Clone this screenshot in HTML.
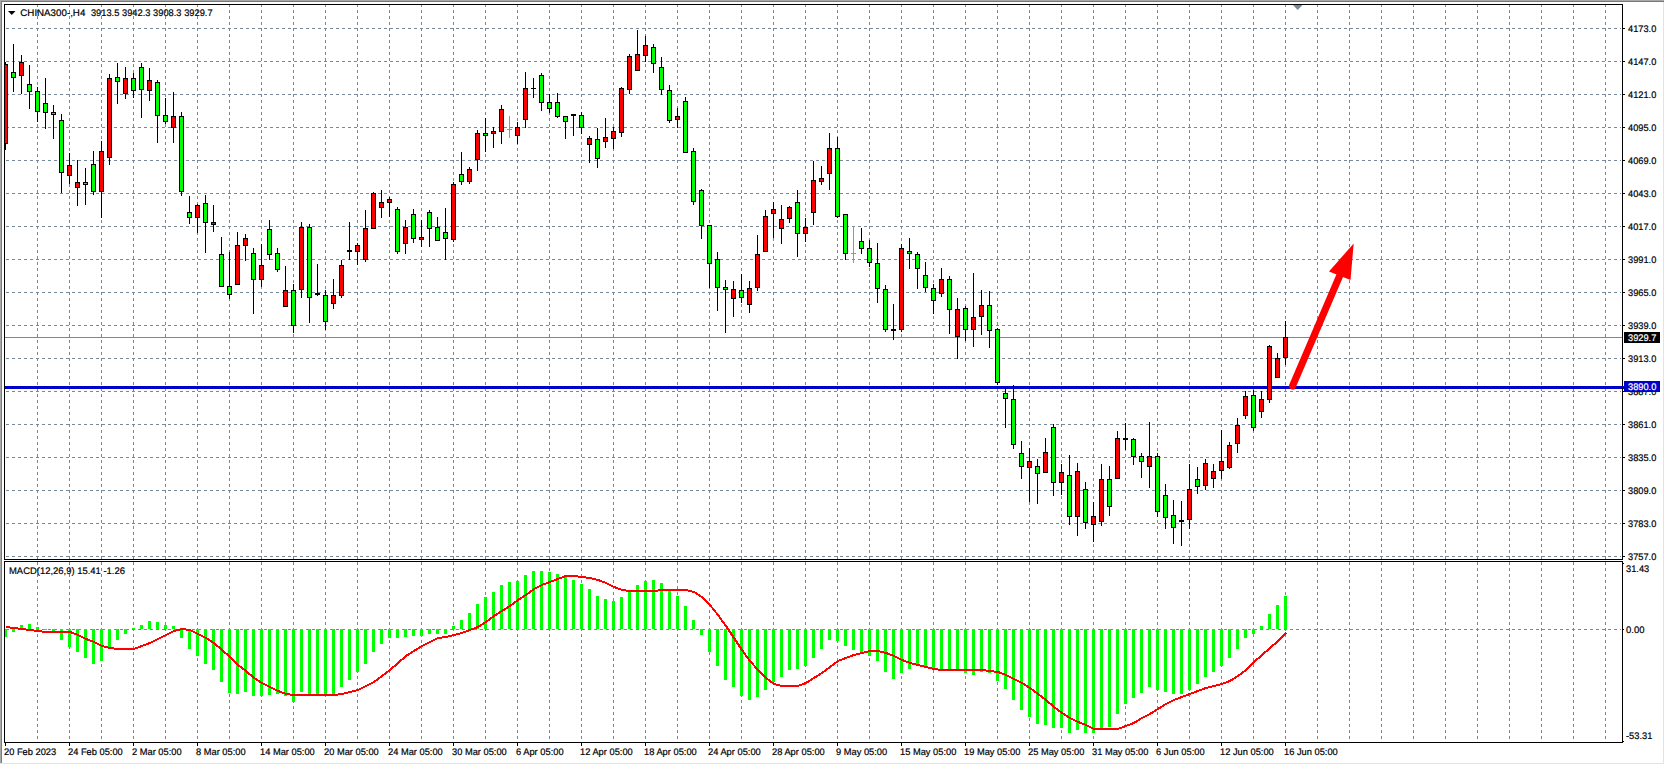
<!DOCTYPE html>
<html><head><meta charset="utf-8"><title>CHINA300-,H4</title>
<style>
html,body{margin:0;padding:0;background:#fff;overflow:hidden}
svg{display:block}
text{font-family:"Liberation Sans",sans-serif;font-size:9.5px;fill:#000;stroke:#000;stroke-width:0.2px}
</style></head>
<body>
<svg width="1665" height="765" viewBox="0 0 1665 765">
<rect x="0" y="0" width="1665" height="765" fill="#fff"/>
<g stroke="#778899" stroke-width="1" stroke-dasharray="3,3" shape-rendering="crispEdges" fill="none">
<line x1="37.5" y1="4" x2="37.5" y2="742"/>
<line x1="69.5" y1="4" x2="69.5" y2="742"/>
<line x1="101.5" y1="4" x2="101.5" y2="742"/>
<line x1="133.5" y1="4" x2="133.5" y2="742"/>
<line x1="165.5" y1="4" x2="165.5" y2="742"/>
<line x1="197.5" y1="4" x2="197.5" y2="742"/>
<line x1="229.5" y1="4" x2="229.5" y2="742"/>
<line x1="261.5" y1="4" x2="261.5" y2="742"/>
<line x1="293.5" y1="4" x2="293.5" y2="742"/>
<line x1="325.5" y1="4" x2="325.5" y2="742"/>
<line x1="357.5" y1="4" x2="357.5" y2="742"/>
<line x1="389.5" y1="4" x2="389.5" y2="742"/>
<line x1="421.5" y1="4" x2="421.5" y2="742"/>
<line x1="453.5" y1="4" x2="453.5" y2="742"/>
<line x1="485.5" y1="4" x2="485.5" y2="742"/>
<line x1="517.5" y1="4" x2="517.5" y2="742"/>
<line x1="549.5" y1="4" x2="549.5" y2="742"/>
<line x1="581.5" y1="4" x2="581.5" y2="742"/>
<line x1="613.5" y1="4" x2="613.5" y2="742"/>
<line x1="645.5" y1="4" x2="645.5" y2="742"/>
<line x1="677.5" y1="4" x2="677.5" y2="742"/>
<line x1="709.5" y1="4" x2="709.5" y2="742"/>
<line x1="741.5" y1="4" x2="741.5" y2="742"/>
<line x1="773.5" y1="4" x2="773.5" y2="742"/>
<line x1="805.5" y1="4" x2="805.5" y2="742"/>
<line x1="837.5" y1="4" x2="837.5" y2="742"/>
<line x1="869.5" y1="4" x2="869.5" y2="742"/>
<line x1="901.5" y1="4" x2="901.5" y2="742"/>
<line x1="933.5" y1="4" x2="933.5" y2="742"/>
<line x1="965.5" y1="4" x2="965.5" y2="742"/>
<line x1="997.5" y1="4" x2="997.5" y2="742"/>
<line x1="1029.5" y1="4" x2="1029.5" y2="742"/>
<line x1="1061.5" y1="4" x2="1061.5" y2="742"/>
<line x1="1093.5" y1="4" x2="1093.5" y2="742"/>
<line x1="1125.5" y1="4" x2="1125.5" y2="742"/>
<line x1="1157.5" y1="4" x2="1157.5" y2="742"/>
<line x1="1189.5" y1="4" x2="1189.5" y2="742"/>
<line x1="1221.5" y1="4" x2="1221.5" y2="742"/>
<line x1="1253.5" y1="4" x2="1253.5" y2="742"/>
<line x1="1285.5" y1="4" x2="1285.5" y2="742"/>
<line x1="1317.5" y1="4" x2="1317.5" y2="742"/>
<line x1="1349.5" y1="4" x2="1349.5" y2="742"/>
<line x1="1381.5" y1="4" x2="1381.5" y2="742"/>
<line x1="1413.5" y1="4" x2="1413.5" y2="742"/>
<line x1="1445.5" y1="4" x2="1445.5" y2="742"/>
<line x1="1477.5" y1="4" x2="1477.5" y2="742"/>
<line x1="1509.5" y1="4" x2="1509.5" y2="742"/>
<line x1="1541.5" y1="4" x2="1541.5" y2="742"/>
<line x1="1573.5" y1="4" x2="1573.5" y2="742"/>
<line x1="1605.5" y1="4" x2="1605.5" y2="742"/>
<line x1="0" y1="28.5" x2="1621" y2="28.5"/>
<line x1="0" y1="61.5" x2="1621" y2="61.5"/>
<line x1="0" y1="94.5" x2="1621" y2="94.5"/>
<line x1="0" y1="127.5" x2="1621" y2="127.5"/>
<line x1="0" y1="160.5" x2="1621" y2="160.5"/>
<line x1="0" y1="193.5" x2="1621" y2="193.5"/>
<line x1="0" y1="226.5" x2="1621" y2="226.5"/>
<line x1="0" y1="259.5" x2="1621" y2="259.5"/>
<line x1="0" y1="292.5" x2="1621" y2="292.5"/>
<line x1="0" y1="325.5" x2="1621" y2="325.5"/>
<line x1="0" y1="358.5" x2="1621" y2="358.5"/>
<line x1="0" y1="391.5" x2="1621" y2="391.5"/>
<line x1="0" y1="424.5" x2="1621" y2="424.5"/>
<line x1="0" y1="457.5" x2="1621" y2="457.5"/>
<line x1="0" y1="490.5" x2="1621" y2="490.5"/>
<line x1="0" y1="523.5" x2="1621" y2="523.5"/>
<line x1="0" y1="556.5" x2="1621" y2="556.5"/>
<line x1="0" y1="629.5" x2="1621" y2="629.5"/>
</g>
<rect x="0" y="0" width="4" height="765" fill="#fff"/>
<g shape-rendering="crispEdges">
<rect x="0" y="0" width="1664" height="1" fill="#a8a8a8"/>
<rect x="0" y="1" width="1664" height="1" fill="#787878"/>
<rect x="0" y="0" width="1" height="763" fill="#a8a8a8"/><rect x="1" y="1" width="1" height="762" fill="#7c7c7c"/>
<rect x="1663" y="2" width="1" height="762" fill="#e3e3e3"/>
<rect x="0" y="763" width="1664" height="1" fill="#e3e3e3"/>
</g>
<g shape-rendering="crispEdges">
<rect x="5" y="560" width="1617" height="1" fill="#fff"/>
<rect x="5" y="337" width="1617" height="1" fill="#778899"/>
<rect x="5" y="386" width="1619" height="3" fill="#0000cd"/>
</g>
<g fill="#00ff00" shape-rendering="crispEdges">
<rect x="4" y="629" width="3" height="8"/>
<rect x="12" y="629" width="3" height="3"/>
<rect x="20" y="625" width="3" height="4"/>
<rect x="28" y="624" width="3" height="5"/>
<rect x="36" y="627" width="3" height="2"/>
<rect x="44" y="629" width="3" height="1"/>
<rect x="52" y="629" width="3" height="2"/>
<rect x="60" y="629" width="3" height="11"/>
<rect x="68" y="629" width="3" height="18"/>
<rect x="76" y="629" width="3" height="23"/>
<rect x="84" y="629" width="3" height="29"/>
<rect x="92" y="629" width="3" height="35"/>
<rect x="100" y="629" width="3" height="32"/>
<rect x="108" y="629" width="3" height="20"/>
<rect x="116" y="629" width="3" height="11"/>
<rect x="124" y="629" width="3" height="5"/>
<rect x="132" y="628" width="3" height="1"/>
<rect x="140" y="625" width="3" height="4"/>
<rect x="148" y="621" width="3" height="8"/>
<rect x="156" y="622" width="3" height="7"/>
<rect x="164" y="625" width="3" height="4"/>
<rect x="172" y="626" width="3" height="3"/>
<rect x="180" y="629" width="3" height="9"/>
<rect x="188" y="629" width="3" height="20"/>
<rect x="196" y="629" width="3" height="27"/>
<rect x="204" y="629" width="3" height="35"/>
<rect x="212" y="629" width="3" height="41"/>
<rect x="220" y="629" width="3" height="53"/>
<rect x="228" y="629" width="3" height="64"/>
<rect x="236" y="629" width="3" height="65"/>
<rect x="244" y="629" width="3" height="63"/>
<rect x="252" y="629" width="3" height="67"/>
<rect x="260" y="629" width="3" height="67"/>
<rect x="268" y="629" width="3" height="66"/>
<rect x="276" y="629" width="3" height="65"/>
<rect x="284" y="629" width="3" height="67"/>
<rect x="292" y="629" width="3" height="73"/>
<rect x="300" y="629" width="3" height="63"/>
<rect x="308" y="629" width="3" height="65"/>
<rect x="316" y="629" width="3" height="65"/>
<rect x="324" y="629" width="3" height="65"/>
<rect x="332" y="629" width="3" height="65"/>
<rect x="340" y="629" width="3" height="58"/>
<rect x="348" y="629" width="3" height="51"/>
<rect x="356" y="629" width="3" height="43"/>
<rect x="364" y="629" width="3" height="35"/>
<rect x="372" y="629" width="3" height="23"/>
<rect x="380" y="629" width="3" height="15"/>
<rect x="388" y="629" width="3" height="9"/>
<rect x="396" y="629" width="3" height="9"/>
<rect x="404" y="629" width="3" height="8"/>
<rect x="412" y="629" width="3" height="7"/>
<rect x="420" y="629" width="3" height="7"/>
<rect x="428" y="629" width="3" height="5"/>
<rect x="436" y="629" width="3" height="5"/>
<rect x="444" y="629" width="3" height="5"/>
<rect x="452" y="626" width="3" height="3"/>
<rect x="460" y="620" width="3" height="9"/>
<rect x="468" y="613" width="3" height="16"/>
<rect x="476" y="604" width="3" height="25"/>
<rect x="484" y="597" width="3" height="32"/>
<rect x="492" y="592" width="3" height="37"/>
<rect x="500" y="585" width="3" height="44"/>
<rect x="508" y="582" width="3" height="47"/>
<rect x="516" y="581" width="3" height="48"/>
<rect x="524" y="575" width="3" height="54"/>
<rect x="532" y="571" width="3" height="58"/>
<rect x="540" y="571" width="3" height="58"/>
<rect x="548" y="572" width="3" height="57"/>
<rect x="556" y="574" width="3" height="55"/>
<rect x="564" y="577" width="3" height="52"/>
<rect x="572" y="580" width="3" height="49"/>
<rect x="580" y="584" width="3" height="45"/>
<rect x="588" y="589" width="3" height="40"/>
<rect x="596" y="596" width="3" height="33"/>
<rect x="604" y="599" width="3" height="30"/>
<rect x="612" y="601" width="3" height="28"/>
<rect x="620" y="597" width="3" height="32"/>
<rect x="628" y="591" width="3" height="38"/>
<rect x="636" y="585" width="3" height="44"/>
<rect x="644" y="581" width="3" height="48"/>
<rect x="652" y="580" width="3" height="49"/>
<rect x="660" y="583" width="3" height="46"/>
<rect x="668" y="590" width="3" height="39"/>
<rect x="676" y="596" width="3" height="33"/>
<rect x="684" y="606" width="3" height="23"/>
<rect x="692" y="620" width="3" height="9"/>
<rect x="700" y="629" width="3" height="6"/>
<rect x="708" y="629" width="3" height="23"/>
<rect x="716" y="629" width="3" height="37"/>
<rect x="724" y="629" width="3" height="51"/>
<rect x="732" y="629" width="3" height="58"/>
<rect x="740" y="629" width="3" height="67"/>
<rect x="748" y="629" width="3" height="71"/>
<rect x="756" y="629" width="3" height="68"/>
<rect x="764" y="629" width="3" height="61"/>
<rect x="772" y="629" width="3" height="53"/>
<rect x="780" y="629" width="3" height="48"/>
<rect x="788" y="629" width="3" height="41"/>
<rect x="796" y="629" width="3" height="40"/>
<rect x="804" y="629" width="3" height="37"/>
<rect x="812" y="629" width="3" height="29"/>
<rect x="820" y="629" width="3" height="20"/>
<rect x="828" y="629" width="3" height="11"/>
<rect x="836" y="629" width="3" height="12"/>
<rect x="844" y="629" width="3" height="17"/>
<rect x="852" y="629" width="3" height="21"/>
<rect x="860" y="629" width="3" height="23"/>
<rect x="868" y="629" width="3" height="27"/>
<rect x="876" y="629" width="3" height="32"/>
<rect x="884" y="629" width="3" height="43"/>
<rect x="892" y="629" width="3" height="50"/>
<rect x="900" y="629" width="3" height="44"/>
<rect x="908" y="629" width="3" height="40"/>
<rect x="916" y="629" width="3" height="37"/>
<rect x="924" y="629" width="3" height="38"/>
<rect x="932" y="629" width="3" height="41"/>
<rect x="940" y="629" width="3" height="40"/>
<rect x="948" y="629" width="3" height="41"/>
<rect x="956" y="629" width="3" height="41"/>
<rect x="964" y="629" width="3" height="44"/>
<rect x="972" y="629" width="3" height="46"/>
<rect x="980" y="629" width="3" height="43"/>
<rect x="988" y="629" width="3" height="44"/>
<rect x="996" y="629" width="3" height="52"/>
<rect x="1004" y="629" width="3" height="60"/>
<rect x="1012" y="629" width="3" height="71"/>
<rect x="1020" y="629" width="3" height="81"/>
<rect x="1028" y="629" width="3" height="88"/>
<rect x="1036" y="629" width="3" height="95"/>
<rect x="1044" y="629" width="3" height="96"/>
<rect x="1052" y="629" width="3" height="99"/>
<rect x="1060" y="629" width="3" height="99"/>
<rect x="1068" y="629" width="3" height="104"/>
<rect x="1076" y="629" width="3" height="101"/>
<rect x="1084" y="629" width="3" height="104"/>
<rect x="1092" y="629" width="3" height="104"/>
<rect x="1100" y="629" width="3" height="99"/>
<rect x="1108" y="629" width="3" height="98"/>
<rect x="1116" y="629" width="3" height="85"/>
<rect x="1124" y="629" width="3" height="75"/>
<rect x="1132" y="629" width="3" height="69"/>
<rect x="1140" y="629" width="3" height="64"/>
<rect x="1148" y="629" width="3" height="58"/>
<rect x="1156" y="629" width="3" height="61"/>
<rect x="1164" y="629" width="3" height="63"/>
<rect x="1172" y="629" width="3" height="65"/>
<rect x="1180" y="629" width="3" height="65"/>
<rect x="1188" y="629" width="3" height="61"/>
<rect x="1196" y="629" width="3" height="55"/>
<rect x="1204" y="629" width="3" height="48"/>
<rect x="1212" y="629" width="3" height="43"/>
<rect x="1220" y="629" width="3" height="37"/>
<rect x="1228" y="629" width="3" height="29"/>
<rect x="1236" y="629" width="3" height="20"/>
<rect x="1244" y="629" width="3" height="9"/>
<rect x="1252" y="629" width="3" height="5"/>
<rect x="1260" y="626" width="3" height="3"/>
<rect x="1268" y="614" width="3" height="15"/>
<rect x="1276" y="605" width="3" height="24"/>
<rect x="1284" y="596" width="3" height="33"/>
</g>
<polyline points="6,627 14,628 22,629 30,630 38,631 46,632 54,632 62,632 70,632 78,635 86,639 94,642 102,646 110,648 118,649 126,649 134,649 142,646 150,643 158,639 166,635 174,631 182,629 190,630 198,634 206,638 214,643 222,650 230,657 238,665 246,671 254,678 262,683 270,687 278,691 286,694 294,695 302,695 310,695 318,695 326,695 334,695 342,694 350,692 358,690 366,686 374,682 382,676 390,670 398,663 406,656 414,651 422,646 430,642 438,638 446,637 454,635 462,633 470,630 478,627 486,622 494,616 502,611 510,606 518,600 526,595 534,589 542,585 550,582 558,579 566,576 574,576 582,577 590,578 598,580 606,583 614,587 622,590 630,591 638,591 646,591 654,591 662,590 670,590 678,590 686,590 694,592 702,597 710,605 718,615 726,626 734,638 742,650 750,661 758,670 766,678 774,684 782,686 790,686 798,686 806,683 814,678 822,673 830,667 838,661 846,658 854,655 862,653 870,651 878,651 886,653 894,656 902,660 910,663 918,665 926,667 934,669 942,670 950,670 958,670 966,670 974,670 982,670 990,671 998,672 1006,675 1014,679 1022,683 1030,688 1038,694 1046,700 1054,707 1062,713 1070,718 1078,722 1086,725 1094,729 1102,729 1110,729 1118,729 1126,726 1134,723 1142,718 1150,714 1158,709 1166,704 1174,700 1182,697 1190,694 1198,691 1206,688 1214,686 1222,684 1230,681 1238,676 1246,670 1254,662 1262,655 1270,648 1278,641 1286,633" fill="none" stroke="#ff0000" stroke-width="2" stroke-linejoin="round" shape-rendering="crispEdges"/>
<g shape-rendering="crispEdges">
<rect x="5" y="62" width="1" height="88" fill="#000"/><rect x="3" y="64" width="5" height="80" fill="#000"/><rect x="4" y="65" width="3" height="78" fill="#ff0000"/>
<rect x="13" y="44" width="1" height="48" fill="#000"/><rect x="11" y="72" width="5" height="6" fill="#000"/><rect x="12" y="73" width="3" height="4" fill="#00ff00"/>
<rect x="21" y="55" width="1" height="39" fill="#000"/><rect x="19" y="62" width="5" height="14" fill="#000"/><rect x="20" y="63" width="3" height="12" fill="#ff0000"/>
<rect x="29" y="65" width="1" height="44" fill="#000"/><rect x="27" y="84" width="5" height="8" fill="#000"/><rect x="28" y="85" width="3" height="6" fill="#00ff00"/>
<rect x="37" y="87" width="1" height="35" fill="#000"/><rect x="35" y="91" width="5" height="21" fill="#000"/><rect x="36" y="92" width="3" height="19" fill="#00ff00"/>
<rect x="45" y="78" width="1" height="51" fill="#000"/><rect x="43" y="103" width="5" height="10" fill="#000"/><rect x="44" y="104" width="3" height="8" fill="#00ff00"/>
<rect x="53" y="105" width="1" height="34" fill="#000"/><rect x="51" y="112" width="5" height="3" fill="#000"/><rect x="52" y="113" width="3" height="1" fill="#00ff00"/>
<rect x="61" y="114" width="1" height="79" fill="#000"/><rect x="59" y="120" width="5" height="53" fill="#000"/><rect x="60" y="121" width="3" height="51" fill="#00ff00"/>
<rect x="69" y="153" width="1" height="31" fill="#000"/><rect x="67" y="165" width="5" height="11" fill="#000"/><rect x="68" y="166" width="3" height="9" fill="#ff0000"/>
<rect x="77" y="160" width="1" height="46" fill="#000"/><rect x="75" y="182" width="5" height="6" fill="#000"/><rect x="76" y="183" width="3" height="4" fill="#ff0000"/>
<rect x="85" y="168" width="1" height="37" fill="#000"/><rect x="83" y="182" width="5" height="3" fill="#000"/><rect x="84" y="183" width="3" height="1" fill="#00ff00"/>
<rect x="93" y="151" width="1" height="44" fill="#000"/><rect x="91" y="164" width="5" height="28" fill="#000"/><rect x="92" y="165" width="3" height="26" fill="#00ff00"/>
<rect x="101" y="141" width="1" height="77" fill="#000"/><rect x="99" y="151" width="5" height="41" fill="#000"/><rect x="100" y="152" width="3" height="39" fill="#ff0000"/>
<rect x="109" y="74" width="1" height="91" fill="#000"/><rect x="107" y="78" width="5" height="80" fill="#000"/><rect x="108" y="79" width="3" height="78" fill="#ff0000"/>
<rect x="117" y="63" width="1" height="41" fill="#000"/><rect x="115" y="77" width="5" height="5" fill="#000"/><rect x="116" y="78" width="3" height="3" fill="#00ff00"/>
<rect x="125" y="67" width="1" height="32" fill="#000"/><rect x="123" y="78" width="5" height="16" fill="#000"/><rect x="124" y="79" width="3" height="14" fill="#ff0000"/>
<rect x="133" y="73" width="1" height="25" fill="#000"/><rect x="131" y="78" width="5" height="13" fill="#000"/><rect x="132" y="79" width="3" height="11" fill="#00ff00"/>
<rect x="141" y="63" width="1" height="55" fill="#000"/><rect x="139" y="67" width="5" height="23" fill="#000"/><rect x="140" y="68" width="3" height="21" fill="#00ff00"/>
<rect x="149" y="68" width="1" height="33" fill="#000"/><rect x="147" y="80" width="5" height="11" fill="#000"/><rect x="148" y="81" width="3" height="9" fill="#ff0000"/>
<rect x="157" y="80" width="1" height="63" fill="#000"/><rect x="155" y="82" width="5" height="34" fill="#000"/><rect x="156" y="83" width="3" height="32" fill="#00ff00"/>
<rect x="165" y="98" width="1" height="26" fill="#000"/><rect x="163" y="115" width="5" height="7" fill="#000"/><rect x="164" y="116" width="3" height="5" fill="#00ff00"/>
<rect x="173" y="92" width="1" height="51" fill="#000"/><rect x="171" y="116" width="5" height="12" fill="#000"/><rect x="172" y="117" width="3" height="10" fill="#ff0000"/>
<rect x="181" y="112" width="1" height="84" fill="#000"/><rect x="179" y="116" width="5" height="76" fill="#000"/><rect x="180" y="117" width="3" height="74" fill="#00ff00"/>
<rect x="189" y="196" width="1" height="28" fill="#000"/><rect x="187" y="212" width="5" height="6" fill="#000"/><rect x="188" y="213" width="3" height="4" fill="#00ff00"/>
<rect x="197" y="204" width="1" height="29" fill="#000"/><rect x="195" y="205" width="5" height="13" fill="#000"/><rect x="196" y="206" width="3" height="11" fill="#ff0000"/>
<rect x="205" y="195" width="1" height="58" fill="#000"/><rect x="203" y="203" width="5" height="20" fill="#000"/><rect x="204" y="204" width="3" height="18" fill="#00ff00"/>
<rect x="213" y="205" width="1" height="27" fill="#000"/><rect x="211" y="222" width="5" height="3" fill="#000"/><rect x="212" y="223" width="3" height="1" fill="#ff0000"/>
<rect x="221" y="237" width="1" height="50" fill="#000"/><rect x="219" y="254" width="5" height="33" fill="#000"/><rect x="220" y="255" width="3" height="31" fill="#00ff00"/>
<rect x="229" y="252" width="1" height="47" fill="#000"/><rect x="227" y="286" width="5" height="9" fill="#000"/><rect x="228" y="287" width="3" height="7" fill="#00ff00"/>
<rect x="237" y="232" width="1" height="53" fill="#000"/><rect x="235" y="245" width="5" height="40" fill="#000"/><rect x="236" y="246" width="3" height="38" fill="#ff0000"/>
<rect x="245" y="234" width="1" height="27" fill="#000"/><rect x="243" y="238" width="5" height="8" fill="#000"/><rect x="244" y="239" width="3" height="6" fill="#ff0000"/>
<rect x="253" y="248" width="1" height="66" fill="#000"/><rect x="251" y="253" width="5" height="27" fill="#000"/><rect x="252" y="254" width="3" height="25" fill="#00ff00"/>
<rect x="261" y="244" width="1" height="43" fill="#000"/><rect x="259" y="265" width="5" height="15" fill="#000"/><rect x="260" y="266" width="3" height="13" fill="#ff0000"/>
<rect x="269" y="220" width="1" height="40" fill="#000"/><rect x="267" y="229" width="5" height="26" fill="#000"/><rect x="268" y="230" width="3" height="24" fill="#00ff00"/>
<rect x="277" y="248" width="1" height="24" fill="#000"/><rect x="275" y="253" width="5" height="17" fill="#000"/><rect x="276" y="254" width="3" height="15" fill="#00ff00"/>
<rect x="285" y="266" width="1" height="41" fill="#000"/><rect x="283" y="290" width="5" height="17" fill="#000"/><rect x="284" y="291" width="3" height="15" fill="#ff0000"/>
<rect x="293" y="284" width="1" height="49" fill="#000"/><rect x="291" y="290" width="5" height="36" fill="#000"/><rect x="292" y="291" width="3" height="34" fill="#00ff00"/>
<rect x="301" y="222" width="1" height="76" fill="#000"/><rect x="299" y="227" width="5" height="63" fill="#000"/><rect x="300" y="228" width="3" height="61" fill="#ff0000"/>
<rect x="309" y="224" width="1" height="99" fill="#000"/><rect x="307" y="227" width="5" height="71" fill="#000"/><rect x="308" y="228" width="3" height="69" fill="#00ff00"/>
<rect x="317" y="264" width="1" height="32" fill="#000"/><rect x="315" y="293" width="5" height="2" fill="#000"/>
<rect x="325" y="290" width="1" height="40" fill="#000"/><rect x="323" y="295" width="5" height="27" fill="#000"/><rect x="324" y="296" width="3" height="25" fill="#00ff00"/>
<rect x="333" y="279" width="1" height="30" fill="#000"/><rect x="331" y="295" width="5" height="9" fill="#000"/><rect x="332" y="296" width="3" height="7" fill="#ff0000"/>
<rect x="341" y="260" width="1" height="38" fill="#000"/><rect x="339" y="265" width="5" height="31" fill="#000"/><rect x="340" y="266" width="3" height="29" fill="#ff0000"/>
<rect x="349" y="222" width="1" height="38" fill="#000"/><rect x="347" y="250" width="5" height="2" fill="#000"/>
<rect x="357" y="243" width="1" height="22" fill="#000"/><rect x="355" y="245" width="5" height="7" fill="#000"/><rect x="356" y="246" width="3" height="5" fill="#ff0000"/>
<rect x="365" y="210" width="1" height="52" fill="#000"/><rect x="363" y="228" width="5" height="32" fill="#000"/><rect x="364" y="229" width="3" height="30" fill="#ff0000"/>
<rect x="373" y="192" width="1" height="37" fill="#000"/><rect x="371" y="193" width="5" height="36" fill="#000"/><rect x="372" y="194" width="3" height="34" fill="#ff0000"/>
<rect x="381" y="190" width="1" height="28" fill="#000"/><rect x="379" y="202" width="5" height="6" fill="#000"/><rect x="380" y="203" width="3" height="4" fill="#ff0000"/>
<rect x="389" y="197" width="1" height="20" fill="#000"/><rect x="387" y="199" width="5" height="4" fill="#000"/><rect x="388" y="200" width="3" height="2" fill="#ff0000"/>
<rect x="397" y="207" width="1" height="47" fill="#000"/><rect x="395" y="209" width="5" height="43" fill="#000"/><rect x="396" y="210" width="3" height="41" fill="#00ff00"/>
<rect x="405" y="220" width="1" height="34" fill="#000"/><rect x="403" y="227" width="5" height="17" fill="#000"/><rect x="404" y="228" width="3" height="15" fill="#ff0000"/>
<rect x="413" y="209" width="1" height="34" fill="#000"/><rect x="411" y="214" width="5" height="25" fill="#000"/><rect x="412" y="215" width="3" height="23" fill="#00ff00"/>
<rect x="421" y="220" width="1" height="27" fill="#000"/><rect x="419" y="237" width="5" height="3" fill="#000"/><rect x="420" y="238" width="3" height="1" fill="#ff0000"/>
<rect x="429" y="210" width="1" height="37" fill="#000"/><rect x="427" y="212" width="5" height="17" fill="#000"/><rect x="428" y="213" width="3" height="15" fill="#00ff00"/>
<rect x="437" y="217" width="1" height="24" fill="#000"/><rect x="435" y="227" width="5" height="14" fill="#000"/><rect x="436" y="228" width="3" height="12" fill="#00ff00"/>
<rect x="445" y="208" width="1" height="52" fill="#000"/><rect x="443" y="232" width="5" height="7" fill="#000"/><rect x="444" y="233" width="3" height="5" fill="#00ff00"/>
<rect x="453" y="182" width="1" height="60" fill="#000"/><rect x="451" y="184" width="5" height="56" fill="#000"/><rect x="452" y="185" width="3" height="54" fill="#ff0000"/>
<rect x="461" y="152" width="1" height="33" fill="#000"/><rect x="459" y="174" width="5" height="8" fill="#000"/><rect x="460" y="175" width="3" height="6" fill="#00ff00"/>
<rect x="469" y="167" width="1" height="17" fill="#000"/><rect x="467" y="169" width="5" height="13" fill="#000"/><rect x="468" y="170" width="3" height="11" fill="#ff0000"/>
<rect x="477" y="130" width="1" height="41" fill="#000"/><rect x="475" y="133" width="5" height="27" fill="#000"/><rect x="476" y="134" width="3" height="25" fill="#ff0000"/>
<rect x="485" y="118" width="1" height="34" fill="#000"/><rect x="483" y="133" width="5" height="3" fill="#000"/><rect x="484" y="134" width="3" height="1" fill="#00ff00"/>
<rect x="493" y="127" width="1" height="21" fill="#000"/><rect x="491" y="131" width="5" height="3" fill="#000"/><rect x="492" y="132" width="3" height="1" fill="#ff0000"/>
<rect x="501" y="105" width="1" height="39" fill="#000"/><rect x="499" y="109" width="5" height="23" fill="#000"/><rect x="500" y="110" width="3" height="21" fill="#ff0000"/>
<rect x="509" y="116" width="1" height="22" fill="#00ff00"/><rect x="507" y="129" width="5" height="1" fill="#00ff00"/>
<rect x="517" y="122" width="1" height="22" fill="#000"/><rect x="515" y="127" width="5" height="9" fill="#000"/><rect x="516" y="128" width="3" height="7" fill="#ff0000"/>
<rect x="525" y="72" width="1" height="56" fill="#000"/><rect x="523" y="88" width="5" height="32" fill="#000"/><rect x="524" y="89" width="3" height="30" fill="#ff0000"/>
<rect x="533" y="78" width="1" height="20" fill="#000"/><rect x="531" y="88" width="5" height="1" fill="#000"/>
<rect x="541" y="73" width="1" height="38" fill="#000"/><rect x="539" y="75" width="5" height="28" fill="#000"/><rect x="540" y="76" width="3" height="26" fill="#00ff00"/>
<rect x="549" y="94" width="1" height="19" fill="#000"/><rect x="547" y="102" width="5" height="7" fill="#000"/><rect x="548" y="103" width="3" height="5" fill="#00ff00"/>
<rect x="557" y="93" width="1" height="25" fill="#000"/><rect x="555" y="102" width="5" height="15" fill="#000"/><rect x="556" y="103" width="3" height="13" fill="#00ff00"/>
<rect x="565" y="116" width="1" height="23" fill="#000"/><rect x="563" y="116" width="5" height="6" fill="#000"/><rect x="564" y="117" width="3" height="4" fill="#00ff00"/>
<rect x="573" y="114" width="1" height="22" fill="#000"/><rect x="571" y="114" width="5" height="2" fill="#000"/>
<rect x="581" y="112" width="1" height="22" fill="#000"/><rect x="579" y="115" width="5" height="13" fill="#000"/><rect x="580" y="116" width="3" height="11" fill="#00ff00"/>
<rect x="589" y="136" width="1" height="27" fill="#000"/><rect x="587" y="138" width="5" height="7" fill="#000"/><rect x="588" y="139" width="3" height="5" fill="#ff0000"/>
<rect x="597" y="128" width="1" height="40" fill="#000"/><rect x="595" y="139" width="5" height="20" fill="#000"/><rect x="596" y="140" width="3" height="18" fill="#00ff00"/>
<rect x="605" y="118" width="1" height="30" fill="#000"/><rect x="603" y="137" width="5" height="5" fill="#000"/><rect x="604" y="138" width="3" height="3" fill="#ff0000"/>
<rect x="613" y="127" width="1" height="22" fill="#000"/><rect x="611" y="131" width="5" height="8" fill="#000"/><rect x="612" y="132" width="3" height="6" fill="#ff0000"/>
<rect x="621" y="87" width="1" height="50" fill="#000"/><rect x="619" y="88" width="5" height="45" fill="#000"/><rect x="620" y="89" width="3" height="43" fill="#ff0000"/>
<rect x="629" y="54" width="1" height="40" fill="#000"/><rect x="627" y="56" width="5" height="34" fill="#000"/><rect x="628" y="57" width="3" height="32" fill="#ff0000"/>
<rect x="637" y="30" width="1" height="41" fill="#000"/><rect x="635" y="54" width="5" height="17" fill="#000"/><rect x="636" y="55" width="3" height="15" fill="#ff0000"/>
<rect x="645" y="36" width="1" height="26" fill="#000"/><rect x="643" y="45" width="5" height="11" fill="#000"/><rect x="644" y="46" width="3" height="9" fill="#ff0000"/>
<rect x="653" y="44" width="1" height="29" fill="#000"/><rect x="651" y="47" width="5" height="17" fill="#000"/><rect x="652" y="48" width="3" height="15" fill="#00ff00"/>
<rect x="661" y="57" width="1" height="38" fill="#000"/><rect x="659" y="67" width="5" height="23" fill="#000"/><rect x="660" y="68" width="3" height="21" fill="#00ff00"/>
<rect x="669" y="85" width="1" height="38" fill="#000"/><rect x="667" y="90" width="5" height="31" fill="#000"/><rect x="668" y="91" width="3" height="29" fill="#00ff00"/>
<rect x="677" y="108" width="1" height="20" fill="#000"/><rect x="675" y="116" width="5" height="4" fill="#000"/><rect x="676" y="117" width="3" height="2" fill="#ff0000"/>
<rect x="685" y="97" width="1" height="56" fill="#000"/><rect x="683" y="101" width="5" height="52" fill="#000"/><rect x="684" y="102" width="3" height="50" fill="#00ff00"/>
<rect x="693" y="148" width="1" height="57" fill="#000"/><rect x="691" y="151" width="5" height="51" fill="#000"/><rect x="692" y="152" width="3" height="49" fill="#00ff00"/>
<rect x="701" y="189" width="1" height="50" fill="#000"/><rect x="699" y="190" width="5" height="36" fill="#000"/><rect x="700" y="191" width="3" height="34" fill="#00ff00"/>
<rect x="709" y="225" width="1" height="63" fill="#000"/><rect x="707" y="225" width="5" height="39" fill="#000"/><rect x="708" y="226" width="3" height="37" fill="#00ff00"/>
<rect x="717" y="252" width="1" height="59" fill="#000"/><rect x="715" y="259" width="5" height="29" fill="#000"/><rect x="716" y="260" width="3" height="27" fill="#00ff00"/>
<rect x="725" y="280" width="1" height="53" fill="#000"/><rect x="723" y="287" width="5" height="3" fill="#000"/><rect x="724" y="288" width="3" height="1" fill="#00ff00"/>
<rect x="733" y="281" width="1" height="36" fill="#000"/><rect x="731" y="289" width="5" height="10" fill="#000"/><rect x="732" y="290" width="3" height="8" fill="#ff0000"/>
<rect x="741" y="274" width="1" height="29" fill="#000"/><rect x="739" y="290" width="5" height="8" fill="#000"/><rect x="740" y="291" width="3" height="6" fill="#00ff00"/>
<rect x="749" y="281" width="1" height="32" fill="#000"/><rect x="747" y="288" width="5" height="17" fill="#000"/><rect x="748" y="289" width="3" height="15" fill="#ff0000"/>
<rect x="757" y="235" width="1" height="56" fill="#000"/><rect x="755" y="254" width="5" height="34" fill="#000"/><rect x="756" y="255" width="3" height="32" fill="#ff0000"/>
<rect x="765" y="210" width="1" height="42" fill="#000"/><rect x="763" y="216" width="5" height="36" fill="#000"/><rect x="764" y="217" width="3" height="34" fill="#ff0000"/>
<rect x="773" y="202" width="1" height="36" fill="#000"/><rect x="771" y="209" width="5" height="5" fill="#000"/><rect x="772" y="210" width="3" height="3" fill="#ff0000"/>
<rect x="781" y="205" width="1" height="39" fill="#000"/><rect x="779" y="219" width="5" height="10" fill="#000"/><rect x="780" y="220" width="3" height="8" fill="#ff0000"/>
<rect x="789" y="206" width="1" height="17" fill="#000"/><rect x="787" y="207" width="5" height="12" fill="#000"/><rect x="788" y="208" width="3" height="10" fill="#ff0000"/>
<rect x="797" y="190" width="1" height="67" fill="#000"/><rect x="795" y="202" width="5" height="32" fill="#000"/><rect x="796" y="203" width="3" height="30" fill="#00ff00"/>
<rect x="805" y="218" width="1" height="24" fill="#000"/><rect x="803" y="227" width="5" height="7" fill="#000"/><rect x="804" y="228" width="3" height="5" fill="#ff0000"/>
<rect x="813" y="161" width="1" height="64" fill="#000"/><rect x="811" y="180" width="5" height="33" fill="#000"/><rect x="812" y="181" width="3" height="31" fill="#ff0000"/>
<rect x="821" y="166" width="1" height="19" fill="#000"/><rect x="819" y="178" width="5" height="4" fill="#000"/><rect x="820" y="179" width="3" height="2" fill="#ff0000"/>
<rect x="829" y="133" width="1" height="57" fill="#000"/><rect x="827" y="148" width="5" height="26" fill="#000"/><rect x="828" y="149" width="3" height="24" fill="#ff0000"/>
<rect x="837" y="137" width="1" height="81" fill="#000"/><rect x="835" y="148" width="5" height="69" fill="#000"/><rect x="836" y="149" width="3" height="67" fill="#00ff00"/>
<rect x="845" y="214" width="1" height="46" fill="#000"/><rect x="843" y="214" width="5" height="40" fill="#000"/><rect x="844" y="215" width="3" height="38" fill="#00ff00"/>
<rect x="853" y="226" width="1" height="37" fill="#00ff00"/><rect x="851" y="253" width="5" height="1" fill="#00ff00"/>
<rect x="861" y="228" width="1" height="26" fill="#000"/><rect x="859" y="241" width="5" height="8" fill="#000"/><rect x="860" y="242" width="3" height="6" fill="#00ff00"/>
<rect x="869" y="240" width="1" height="27" fill="#000"/><rect x="867" y="248" width="5" height="15" fill="#000"/><rect x="868" y="249" width="3" height="13" fill="#00ff00"/>
<rect x="877" y="243" width="1" height="60" fill="#000"/><rect x="875" y="263" width="5" height="26" fill="#000"/><rect x="876" y="264" width="3" height="24" fill="#00ff00"/>
<rect x="885" y="285" width="1" height="47" fill="#000"/><rect x="883" y="289" width="5" height="41" fill="#000"/><rect x="884" y="290" width="3" height="39" fill="#00ff00"/>
<rect x="893" y="304" width="1" height="36" fill="#000"/><rect x="891" y="329" width="5" height="2" fill="#000"/>
<rect x="901" y="244" width="1" height="88" fill="#000"/><rect x="899" y="248" width="5" height="82" fill="#000"/><rect x="900" y="249" width="3" height="80" fill="#ff0000"/>
<rect x="909" y="238" width="1" height="31" fill="#000"/><rect x="907" y="251" width="5" height="3" fill="#000"/><rect x="908" y="252" width="3" height="1" fill="#00ff00"/>
<rect x="917" y="252" width="1" height="37" fill="#000"/><rect x="915" y="254" width="5" height="15" fill="#000"/><rect x="916" y="255" width="3" height="13" fill="#00ff00"/>
<rect x="925" y="262" width="1" height="30" fill="#000"/><rect x="923" y="275" width="5" height="13" fill="#000"/><rect x="924" y="276" width="3" height="11" fill="#00ff00"/>
<rect x="933" y="284" width="1" height="30" fill="#000"/><rect x="931" y="288" width="5" height="13" fill="#000"/><rect x="932" y="289" width="3" height="11" fill="#00ff00"/>
<rect x="941" y="268" width="1" height="29" fill="#000"/><rect x="939" y="279" width="5" height="15" fill="#000"/><rect x="940" y="280" width="3" height="13" fill="#ff0000"/>
<rect x="949" y="276" width="1" height="58" fill="#000"/><rect x="947" y="279" width="5" height="31" fill="#000"/><rect x="948" y="280" width="3" height="29" fill="#00ff00"/>
<rect x="957" y="298" width="1" height="61" fill="#000"/><rect x="955" y="309" width="5" height="28" fill="#000"/><rect x="956" y="310" width="3" height="26" fill="#ff0000"/>
<rect x="965" y="306" width="1" height="35" fill="#000"/><rect x="963" y="308" width="5" height="22" fill="#000"/><rect x="964" y="309" width="3" height="20" fill="#00ff00"/>
<rect x="973" y="273" width="1" height="74" fill="#000"/><rect x="971" y="317" width="5" height="13" fill="#000"/><rect x="972" y="318" width="3" height="11" fill="#ff0000"/>
<rect x="981" y="290" width="1" height="45" fill="#000"/><rect x="979" y="305" width="5" height="12" fill="#000"/><rect x="980" y="306" width="3" height="10" fill="#ff0000"/>
<rect x="989" y="291" width="1" height="57" fill="#000"/><rect x="987" y="305" width="5" height="26" fill="#000"/><rect x="988" y="306" width="3" height="24" fill="#00ff00"/>
<rect x="997" y="328" width="1" height="57" fill="#000"/><rect x="995" y="329" width="5" height="54" fill="#000"/><rect x="996" y="330" width="3" height="52" fill="#00ff00"/>
<rect x="1005" y="389" width="1" height="39" fill="#000"/><rect x="1003" y="393" width="5" height="6" fill="#000"/><rect x="1004" y="394" width="3" height="4" fill="#00ff00"/>
<rect x="1013" y="385" width="1" height="64" fill="#000"/><rect x="1011" y="399" width="5" height="46" fill="#000"/><rect x="1012" y="400" width="3" height="44" fill="#00ff00"/>
<rect x="1021" y="441" width="1" height="38" fill="#000"/><rect x="1019" y="453" width="5" height="14" fill="#000"/><rect x="1020" y="454" width="3" height="12" fill="#00ff00"/>
<rect x="1029" y="448" width="1" height="54" fill="#000"/><rect x="1027" y="461" width="5" height="7" fill="#000"/><rect x="1028" y="462" width="3" height="5" fill="#ff0000"/>
<rect x="1037" y="459" width="1" height="45" fill="#000"/><rect x="1035" y="466" width="5" height="8" fill="#000"/><rect x="1036" y="467" width="3" height="6" fill="#00ff00"/>
<rect x="1045" y="438" width="1" height="35" fill="#000"/><rect x="1043" y="452" width="5" height="21" fill="#000"/><rect x="1044" y="453" width="3" height="19" fill="#ff0000"/>
<rect x="1053" y="424" width="1" height="72" fill="#000"/><rect x="1051" y="427" width="5" height="56" fill="#000"/><rect x="1052" y="428" width="3" height="54" fill="#00ff00"/>
<rect x="1061" y="464" width="1" height="31" fill="#000"/><rect x="1059" y="472" width="5" height="11" fill="#000"/><rect x="1060" y="473" width="3" height="9" fill="#ff0000"/>
<rect x="1069" y="455" width="1" height="70" fill="#000"/><rect x="1067" y="475" width="5" height="42" fill="#000"/><rect x="1068" y="476" width="3" height="40" fill="#00ff00"/>
<rect x="1077" y="463" width="1" height="73" fill="#000"/><rect x="1075" y="471" width="5" height="46" fill="#000"/><rect x="1076" y="472" width="3" height="44" fill="#ff0000"/>
<rect x="1085" y="482" width="1" height="47" fill="#000"/><rect x="1083" y="489" width="5" height="34" fill="#000"/><rect x="1084" y="490" width="3" height="32" fill="#00ff00"/>
<rect x="1093" y="502" width="1" height="40" fill="#000"/><rect x="1091" y="516" width="5" height="9" fill="#000"/><rect x="1092" y="517" width="3" height="7" fill="#ff0000"/>
<rect x="1101" y="464" width="1" height="62" fill="#000"/><rect x="1099" y="479" width="5" height="43" fill="#000"/><rect x="1100" y="480" width="3" height="41" fill="#ff0000"/>
<rect x="1109" y="466" width="1" height="50" fill="#000"/><rect x="1107" y="479" width="5" height="28" fill="#000"/><rect x="1108" y="480" width="3" height="26" fill="#00ff00"/>
<rect x="1117" y="431" width="1" height="48" fill="#000"/><rect x="1115" y="438" width="5" height="41" fill="#000"/><rect x="1116" y="439" width="3" height="39" fill="#ff0000"/>
<rect x="1125" y="423" width="1" height="27" fill="#000"/><rect x="1123" y="438" width="5" height="2" fill="#000"/>
<rect x="1133" y="438" width="1" height="27" fill="#000"/><rect x="1131" y="439" width="5" height="18" fill="#000"/><rect x="1132" y="440" width="3" height="16" fill="#00ff00"/>
<rect x="1141" y="453" width="1" height="25" fill="#000"/><rect x="1139" y="456" width="5" height="6" fill="#000"/><rect x="1140" y="457" width="3" height="4" fill="#00ff00"/>
<rect x="1149" y="422" width="1" height="66" fill="#000"/><rect x="1147" y="456" width="5" height="11" fill="#000"/><rect x="1148" y="457" width="3" height="9" fill="#ff0000"/>
<rect x="1157" y="453" width="1" height="64" fill="#000"/><rect x="1155" y="456" width="5" height="56" fill="#000"/><rect x="1156" y="457" width="3" height="54" fill="#00ff00"/>
<rect x="1165" y="484" width="1" height="45" fill="#000"/><rect x="1163" y="495" width="5" height="23" fill="#000"/><rect x="1164" y="496" width="3" height="21" fill="#00ff00"/>
<rect x="1173" y="500" width="1" height="44" fill="#000"/><rect x="1171" y="515" width="5" height="13" fill="#000"/><rect x="1172" y="516" width="3" height="11" fill="#00ff00"/>
<rect x="1181" y="501" width="1" height="45" fill="#000"/><rect x="1179" y="520" width="5" height="2" fill="#000"/>
<rect x="1189" y="464" width="1" height="65" fill="#000"/><rect x="1187" y="489" width="5" height="31" fill="#000"/><rect x="1188" y="490" width="3" height="29" fill="#ff0000"/>
<rect x="1197" y="467" width="1" height="27" fill="#000"/><rect x="1195" y="479" width="5" height="8" fill="#000"/><rect x="1196" y="480" width="3" height="6" fill="#00ff00"/>
<rect x="1205" y="459" width="1" height="31" fill="#000"/><rect x="1203" y="463" width="5" height="23" fill="#000"/><rect x="1204" y="464" width="3" height="21" fill="#ff0000"/>
<rect x="1213" y="464" width="1" height="24" fill="#000"/><rect x="1211" y="471" width="5" height="8" fill="#000"/><rect x="1212" y="472" width="3" height="6" fill="#ff0000"/>
<rect x="1221" y="430" width="1" height="49" fill="#000"/><rect x="1219" y="461" width="5" height="10" fill="#000"/><rect x="1220" y="462" width="3" height="8" fill="#ff0000"/>
<rect x="1229" y="442" width="1" height="27" fill="#000"/><rect x="1227" y="445" width="5" height="23" fill="#000"/><rect x="1228" y="446" width="3" height="21" fill="#ff0000"/>
<rect x="1237" y="418" width="1" height="35" fill="#000"/><rect x="1235" y="425" width="5" height="19" fill="#000"/><rect x="1236" y="426" width="3" height="17" fill="#ff0000"/>
<rect x="1245" y="391" width="1" height="28" fill="#000"/><rect x="1243" y="396" width="5" height="20" fill="#000"/><rect x="1244" y="397" width="3" height="18" fill="#ff0000"/>
<rect x="1253" y="390" width="1" height="41" fill="#000"/><rect x="1251" y="395" width="5" height="33" fill="#000"/><rect x="1252" y="396" width="3" height="31" fill="#00ff00"/>
<rect x="1261" y="391" width="1" height="27" fill="#000"/><rect x="1259" y="399" width="5" height="13" fill="#000"/><rect x="1260" y="400" width="3" height="11" fill="#ff0000"/>
<rect x="1269" y="345" width="1" height="58" fill="#000"/><rect x="1267" y="346" width="5" height="54" fill="#000"/><rect x="1268" y="347" width="3" height="52" fill="#ff0000"/>
<rect x="1277" y="353" width="1" height="25" fill="#000"/><rect x="1275" y="358" width="5" height="20" fill="#000"/><rect x="1276" y="359" width="3" height="18" fill="#ff0000"/>
<rect x="1285" y="321" width="1" height="44" fill="#000"/><rect x="1283" y="337" width="5" height="21" fill="#000"/><rect x="1284" y="338" width="3" height="19" fill="#ff0000"/>
</g>
<rect x="2" y="5" width="2" height="737" fill="#fff" shape-rendering="crispEdges"/>
<line x1="1292.5" y1="386" x2="1340" y2="275" stroke="#ff0000" stroke-width="7" stroke-linecap="round"/>
<polygon points="1353.7,243.4 1329,271.6 1350.5,280" fill="#ff0000"/>
<polygon points="1293,5 1302.5,5 1297.7,10" fill="#778899"/>
<g fill="#000" shape-rendering="crispEdges">
<rect x="4" y="4" width="1619" height="1"/>
<rect x="4" y="559" width="1619" height="1"/>
<rect x="4" y="561" width="1619" height="1"/>
<rect x="4" y="742" width="1619" height="1"/>
<rect x="4" y="4" width="1" height="556"/><rect x="4" y="561" width="1" height="182"/>
<rect x="1622" y="4" width="1" height="556"/><rect x="1622" y="561" width="1" height="182"/>
<rect x="1623" y="28" width="2" height="1"/><rect x="1623" y="61" width="2" height="1"/><rect x="1623" y="94" width="2" height="1"/><rect x="1623" y="127" width="2" height="1"/><rect x="1623" y="160" width="2" height="1"/><rect x="1623" y="193" width="2" height="1"/><rect x="1623" y="226" width="2" height="1"/><rect x="1623" y="259" width="2" height="1"/><rect x="1623" y="292" width="2" height="1"/><rect x="1623" y="325" width="2" height="1"/><rect x="1623" y="358" width="2" height="1"/><rect x="1623" y="391" width="2" height="1"/><rect x="1623" y="424" width="2" height="1"/><rect x="1623" y="457" width="2" height="1"/><rect x="1623" y="490" width="2" height="1"/><rect x="1623" y="523" width="2" height="1"/><rect x="1623" y="556" width="2" height="1"/>
<rect x="1623" y="563" width="1" height="1"/><rect x="1623" y="629" width="1" height="1"/><rect x="1623" y="741" width="1" height="1"/>
<rect x="5" y="743" width="1" height="3"/><rect x="69" y="743" width="1" height="3"/><rect x="133" y="743" width="1" height="3"/><rect x="197" y="743" width="1" height="3"/><rect x="261" y="743" width="1" height="3"/><rect x="325" y="743" width="1" height="3"/><rect x="389" y="743" width="1" height="3"/><rect x="453" y="743" width="1" height="3"/><rect x="517" y="743" width="1" height="3"/><rect x="581" y="743" width="1" height="3"/><rect x="645" y="743" width="1" height="3"/><rect x="709" y="743" width="1" height="3"/><rect x="773" y="743" width="1" height="3"/><rect x="837" y="743" width="1" height="3"/><rect x="901" y="743" width="1" height="3"/><rect x="965" y="743" width="1" height="3"/><rect x="1029" y="743" width="1" height="3"/><rect x="1093" y="743" width="1" height="3"/><rect x="1157" y="743" width="1" height="3"/><rect x="1221" y="743" width="1" height="3"/><rect x="1285" y="743" width="1" height="3"/>
</g>
<rect x="1622" y="386" width="2" height="2" fill="#0000cd" shape-rendering="crispEdges"/>
<text transform="translate(1628,31.8) skewX(0.1)" textLength="28.3" lengthAdjust="spacingAndGlyphs">4173.0</text>
<text transform="translate(1628,64.8) skewX(0.1)" textLength="28.3" lengthAdjust="spacingAndGlyphs">4147.0</text>
<text transform="translate(1628,97.8) skewX(0.1)" textLength="28.3" lengthAdjust="spacingAndGlyphs">4121.0</text>
<text transform="translate(1628,130.8) skewX(0.1)" textLength="28.3" lengthAdjust="spacingAndGlyphs">4095.0</text>
<text transform="translate(1628,163.8) skewX(0.1)" textLength="28.3" lengthAdjust="spacingAndGlyphs">4069.0</text>
<text transform="translate(1628,196.8) skewX(0.1)" textLength="28.3" lengthAdjust="spacingAndGlyphs">4043.0</text>
<text transform="translate(1628,229.8) skewX(0.1)" textLength="28.3" lengthAdjust="spacingAndGlyphs">4017.0</text>
<text transform="translate(1628,262.8) skewX(0.1)" textLength="28.3" lengthAdjust="spacingAndGlyphs">3991.0</text>
<text transform="translate(1628,295.8) skewX(0.1)" textLength="28.3" lengthAdjust="spacingAndGlyphs">3965.0</text>
<text transform="translate(1628,328.8) skewX(0.1)" textLength="28.3" lengthAdjust="spacingAndGlyphs">3939.0</text>
<text transform="translate(1628,361.8) skewX(0.1)" textLength="28.3" lengthAdjust="spacingAndGlyphs">3913.0</text>
<text transform="translate(1628,394.8) skewX(0.1)" textLength="28.3" lengthAdjust="spacingAndGlyphs">3887.0</text>
<text transform="translate(1628,427.8) skewX(0.1)" textLength="28.3" lengthAdjust="spacingAndGlyphs">3861.0</text>
<text transform="translate(1628,460.8) skewX(0.1)" textLength="28.3" lengthAdjust="spacingAndGlyphs">3835.0</text>
<text transform="translate(1628,493.8) skewX(0.1)" textLength="28.3" lengthAdjust="spacingAndGlyphs">3809.0</text>
<text transform="translate(1628,526.8) skewX(0.1)" textLength="28.3" lengthAdjust="spacingAndGlyphs">3783.0</text>
<text transform="translate(1628,559.8) skewX(0.1)" textLength="28.3" lengthAdjust="spacingAndGlyphs">3757.0</text>
<text transform="translate(1626,572) skewX(0.1)" textLength="23.2" lengthAdjust="spacingAndGlyphs">31.43</text>
<text transform="translate(1626,633) skewX(0.1)" textLength="18.5" lengthAdjust="spacingAndGlyphs">0.00</text>
<text transform="translate(1626,739) skewX(0.1)" textLength="26.3" lengthAdjust="spacingAndGlyphs">-53.31</text>
<rect x="1624" y="332" width="36" height="11" fill="#000" shape-rendering="crispEdges"/>
<text transform="translate(1628,340.8) skewX(0.1)" textLength="28.3" lengthAdjust="spacingAndGlyphs" style="fill:#fff;stroke:#fff">3929.7</text>
<rect x="1624" y="381" width="36" height="11" fill="#0000cd" shape-rendering="crispEdges"/>
<text transform="translate(1628,389.8) skewX(0.1)" textLength="28.3" lengthAdjust="spacingAndGlyphs" style="fill:#fff;stroke:#fff">3890.0</text>
<text transform="translate(4,755) skewX(0.1) scale(0.98,1)">20 Feb 2023</text>
<text transform="translate(68,755) skewX(0.1) scale(0.98,1)">24 Feb 05:00</text>
<text transform="translate(132,755) skewX(0.1) scale(0.98,1)">2 Mar 05:00</text>
<text transform="translate(196,755) skewX(0.1) scale(0.98,1)">8 Mar 05:00</text>
<text transform="translate(260,755) skewX(0.1) scale(0.98,1)">14 Mar 05:00</text>
<text transform="translate(324,755) skewX(0.1) scale(0.98,1)">20 Mar 05:00</text>
<text transform="translate(388,755) skewX(0.1) scale(0.98,1)">24 Mar 05:00</text>
<text transform="translate(452,755) skewX(0.1) scale(0.98,1)">30 Mar 05:00</text>
<text transform="translate(516,755) skewX(0.1) scale(0.98,1)">6 Apr 05:00</text>
<text transform="translate(580,755) skewX(0.1) scale(0.98,1)">12 Apr 05:00</text>
<text transform="translate(644,755) skewX(0.1) scale(0.98,1)">18 Apr 05:00</text>
<text transform="translate(708,755) skewX(0.1) scale(0.98,1)">24 Apr 05:00</text>
<text transform="translate(772,755) skewX(0.1) scale(0.98,1)">28 Apr 05:00</text>
<text transform="translate(836,755) skewX(0.1) scale(0.98,1)">9 May 05:00</text>
<text transform="translate(900,755) skewX(0.1) scale(0.98,1)">15 May 05:00</text>
<text transform="translate(964,755) skewX(0.1) scale(0.98,1)">19 May 05:00</text>
<text transform="translate(1028,755) skewX(0.1) scale(0.98,1)">25 May 05:00</text>
<text transform="translate(1092,755) skewX(0.1) scale(0.98,1)">31 May 05:00</text>
<text transform="translate(1156,755) skewX(0.1) scale(0.98,1)">6 Jun 05:00</text>
<text transform="translate(1220,755) skewX(0.1) scale(0.98,1)">12 Jun 05:00</text>
<text transform="translate(1284,755) skewX(0.1) scale(0.98,1)">16 Jun 05:00</text>
<polygon points="8,11 15.5,11 11.75,15" fill="#000"/>
<text transform="translate(20.3,16) skewX(0.1)" textLength="65" lengthAdjust="spacingAndGlyphs">CHINA300-,H4</text>
<text transform="translate(90.9,16) skewX(0.1)" textLength="28.4" lengthAdjust="spacingAndGlyphs">3913.5</text>
<text transform="translate(122.0,16) skewX(0.1)" textLength="28.4" lengthAdjust="spacingAndGlyphs">3942.3</text>
<text transform="translate(153.1,16) skewX(0.1)" textLength="28.4" lengthAdjust="spacingAndGlyphs">3908.3</text>
<text transform="translate(184.2,16) skewX(0.1)" textLength="28.4" lengthAdjust="spacingAndGlyphs">3929.7</text>
<text transform="translate(9,574) skewX(0.1)" textLength="116" lengthAdjust="spacingAndGlyphs">MACD(12,26,9) 15.41 -1.26</text>
</svg>
</body></html>
